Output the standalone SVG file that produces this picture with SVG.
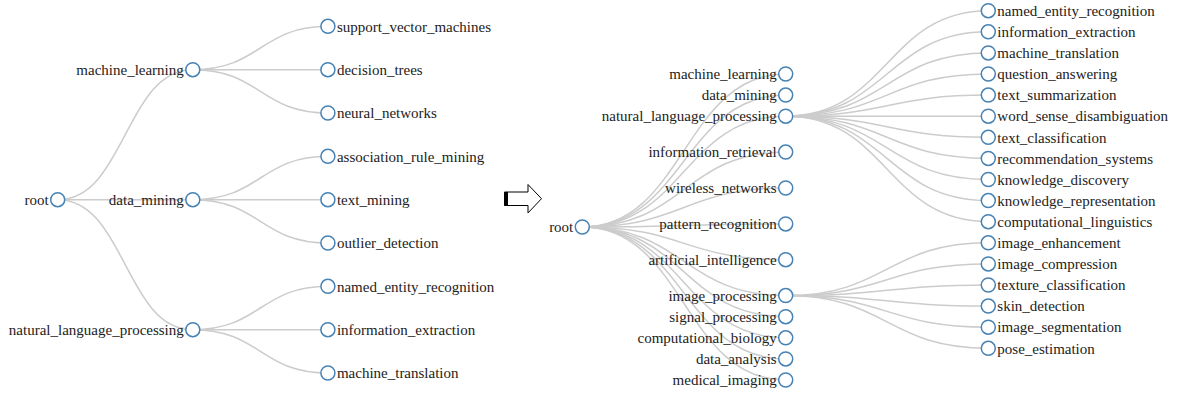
<svg xmlns="http://www.w3.org/2000/svg" width="1181" height="394" viewBox="0 0 1181 394">
<style>
.link{fill:none;stroke:#ccc;stroke-width:1.5}
.node circle{fill:#fff;stroke:#4682b4;stroke-width:1.5}
.node text{font-family:"Liberation Serif","Times New Roman",serif;font-size:15px;fill:#222}
.l text{text-anchor:end}
.arrow{fill:#fff;stroke:#000;stroke-width:1}
</style>
<rect width="1181" height="394" fill="#fff"/>
<!-- Left tree connectors -->
<g id="links-left">
<path class="link" d="M57.7,199.7C125.25,199.7 125.25,69.7 192.8,69.7"/>
<path class="link" d="M57.7,199.7C125.25,199.7 125.25,199.7 192.8,199.7"/>
<path class="link" d="M57.7,199.7C125.25,199.7 125.25,329.7 192.8,329.7"/>
<path class="link" d="M192.8,69.7C260.35,69.7 260.35,26.3 327.9,26.3"/>
<path class="link" d="M192.8,69.7C260.35,69.7 260.35,69.7 327.9,69.7"/>
<path class="link" d="M192.8,69.7C260.35,69.7 260.35,113 327.9,113"/>
<path class="link" d="M192.8,199.7C260.35,199.7 260.35,156.3 327.9,156.3"/>
<path class="link" d="M192.8,199.7C260.35,199.7 260.35,199.7 327.9,199.7"/>
<path class="link" d="M192.8,199.7C260.35,199.7 260.35,243 327.9,243"/>
<path class="link" d="M192.8,329.7C260.35,329.7 260.35,286.3 327.9,286.3"/>
<path class="link" d="M192.8,329.7C260.35,329.7 260.35,329.7 327.9,329.7"/>
<path class="link" d="M192.8,329.7C260.35,329.7 260.35,373 327.9,373"/>
</g>
<!-- Right tree connectors -->
<g id="links-right">
<path class="link" d="M582.3,227C684,227 684,74 785.7,74"/>
<path class="link" d="M582.3,227C684,227 684,95.1 785.7,95.1"/>
<path class="link" d="M582.3,227C684,227 684,116.2 785.7,116.2"/>
<path class="link" d="M582.3,227C684,227 684,152.1 785.7,152.1"/>
<path class="link" d="M582.3,227C684,227 684,188 785.7,188"/>
<path class="link" d="M582.3,227C684,227 684,223.9 785.7,223.9"/>
<path class="link" d="M582.3,227C684,227 684,259.7 785.7,259.7"/>
<path class="link" d="M582.3,227C684,227 684,295.6 785.7,295.6"/>
<path class="link" d="M582.3,227C684,227 684,316.7 785.7,316.7"/>
<path class="link" d="M582.3,227C684,227 684,337.8 785.7,337.8"/>
<path class="link" d="M582.3,227C684,227 684,358.9 785.7,358.9"/>
<path class="link" d="M582.3,227C684,227 684,380 785.7,380"/>
<path class="link" d="M785.7,116.2C887,116.2 887,10.7 988.3,10.7"/>
<path class="link" d="M785.7,116.2C887,116.2 887,31.8 988.3,31.8"/>
<path class="link" d="M785.7,116.2C887,116.2 887,52.9 988.3,52.9"/>
<path class="link" d="M785.7,116.2C887,116.2 887,74 988.3,74"/>
<path class="link" d="M785.7,116.2C887,116.2 887,95.1 988.3,95.1"/>
<path class="link" d="M785.7,116.2C887,116.2 887,116.2 988.3,116.2"/>
<path class="link" d="M785.7,116.2C887,116.2 887,137.3 988.3,137.3"/>
<path class="link" d="M785.7,116.2C887,116.2 887,158.4 988.3,158.4"/>
<path class="link" d="M785.7,116.2C887,116.2 887,179.5 988.3,179.5"/>
<path class="link" d="M785.7,116.2C887,116.2 887,200.6 988.3,200.6"/>
<path class="link" d="M785.7,116.2C887,116.2 887,221.7 988.3,221.7"/>
<path class="link" d="M785.7,295.6C887,295.6 887,242.8 988.3,242.8"/>
<path class="link" d="M785.7,295.6C887,295.6 887,263.9 988.3,263.9"/>
<path class="link" d="M785.7,295.6C887,295.6 887,285 988.3,285"/>
<path class="link" d="M785.7,295.6C887,295.6 887,306.1 988.3,306.1"/>
<path class="link" d="M785.7,295.6C887,295.6 887,327.2 988.3,327.2"/>
<path class="link" d="M785.7,295.6C887,295.6 887,348.3 988.3,348.3"/>
</g>
<!-- Arrow -->
<g id="transform-arrow">
<path class="arrow" d="M504.5,192H528V184.5L541.5,198.7L528,212.9V205.5H504.5Z"/>
<rect x="504" y="192" width="4" height="13.5" fill="#000"/>
</g>
<!-- Left tree nodes -->
<g id="L-root" class="node l" transform="translate(57.7,199.7)"><circle r="7"/><text x="-9" dy="0.35em">root</text></g>
<g id="L-machine_learning" class="node l" transform="translate(192.8,69.7)"><circle r="7"/><text x="-9" dy="0.35em">machine_learning</text></g>
<g id="L-data_mining" class="node l" transform="translate(192.8,199.7)"><circle r="7"/><text x="-9" dy="0.35em">data_mining</text></g>
<g id="L-natural_language_processing" class="node l" transform="translate(192.8,329.7)"><circle r="7"/><text x="-9" dy="0.35em">natural_language_processing</text></g>
<g id="L-support_vector_machines" class="node" transform="translate(327.9,26.3)"><circle r="7"/><text x="9" dy="0.35em">support_vector_machines</text></g>
<g id="L-decision_trees" class="node" transform="translate(327.9,69.7)"><circle r="7"/><text x="9" dy="0.35em">decision_trees</text></g>
<g id="L-neural_networks" class="node" transform="translate(327.9,113)"><circle r="7"/><text x="9" dy="0.35em">neural_networks</text></g>
<g id="L-association_rule_mining" class="node" transform="translate(327.9,156.3)"><circle r="7"/><text x="9" dy="0.35em">association_rule_mining</text></g>
<g id="L-text_mining" class="node" transform="translate(327.9,199.7)"><circle r="7"/><text x="9" dy="0.35em">text_mining</text></g>
<g id="L-outlier_detection" class="node" transform="translate(327.9,243)"><circle r="7"/><text x="9" dy="0.35em">outlier_detection</text></g>
<g id="L-named_entity_recognition" class="node" transform="translate(327.9,286.3)"><circle r="7"/><text x="9" dy="0.35em">named_entity_recognition</text></g>
<g id="L-information_extraction" class="node" transform="translate(327.9,329.7)"><circle r="7"/><text x="9" dy="0.35em">information_extraction</text></g>
<g id="L-machine_translation" class="node" transform="translate(327.9,373)"><circle r="7"/><text x="9" dy="0.35em">machine_translation</text></g>
<!-- Right tree nodes -->
<g id="R-root" class="node l" transform="translate(582.3,227)"><circle r="7"/><text x="-9" dy="0.35em">root</text></g>
<g id="R-machine_learning" class="node l" transform="translate(785.7,74)"><circle r="7"/><text x="-9" dy="0.35em">machine_learning</text></g>
<g id="R-data_mining" class="node l" transform="translate(785.7,95.1)"><circle r="7"/><text x="-9" dy="0.35em">data_mining</text></g>
<g id="R-natural_language_processing" class="node l" transform="translate(785.7,116.2)"><circle r="7"/><text x="-9" dy="0.35em">natural_language_processing</text></g>
<g id="R-information_retrieval" class="node l" transform="translate(785.7,152.1)"><circle r="7"/><text x="-9" dy="0.35em">information_retrieval</text></g>
<g id="R-wireless_networks" class="node l" transform="translate(785.7,188)"><circle r="7"/><text x="-9" dy="0.35em">wireless_networks</text></g>
<g id="R-pattern_recognition" class="node l" transform="translate(785.7,223.9)"><circle r="7"/><text x="-9" dy="0.35em">pattern_recognition</text></g>
<g id="R-artificial_intelligence" class="node l" transform="translate(785.7,259.7)"><circle r="7"/><text x="-9" dy="0.35em">artificial_intelligence</text></g>
<g id="R-image_processing" class="node l" transform="translate(785.7,295.6)"><circle r="7"/><text x="-9" dy="0.35em">image_processing</text></g>
<g id="R-signal_processing" class="node l" transform="translate(785.7,316.7)"><circle r="7"/><text x="-9" dy="0.35em">signal_processing</text></g>
<g id="R-computational_biology" class="node l" transform="translate(785.7,337.8)"><circle r="7"/><text x="-9" dy="0.35em">computational_biology</text></g>
<g id="R-data_analysis" class="node l" transform="translate(785.7,358.9)"><circle r="7"/><text x="-9" dy="0.35em">data_analysis</text></g>
<g id="R-medical_imaging" class="node l" transform="translate(785.7,380)"><circle r="7"/><text x="-9" dy="0.35em">medical_imaging</text></g>
<g id="R-named_entity_recognition" class="node" transform="translate(988.3,10.7)"><circle r="7"/><text x="9" dy="0.35em">named_entity_recognition</text></g>
<g id="R-information_extraction" class="node" transform="translate(988.3,31.8)"><circle r="7"/><text x="9" dy="0.35em">information_extraction</text></g>
<g id="R-machine_translation" class="node" transform="translate(988.3,52.9)"><circle r="7"/><text x="9" dy="0.35em">machine_translation</text></g>
<g id="R-question_answering" class="node" transform="translate(988.3,74)"><circle r="7"/><text x="9" dy="0.35em">question_answering</text></g>
<g id="R-text_summarization" class="node" transform="translate(988.3,95.1)"><circle r="7"/><text x="9" dy="0.35em">text_summarization</text></g>
<g id="R-word_sense_disambiguation" class="node" transform="translate(988.3,116.2)"><circle r="7"/><text x="9" dy="0.35em">word_sense_disambiguation</text></g>
<g id="R-text_classification" class="node" transform="translate(988.3,137.3)"><circle r="7"/><text x="9" dy="0.35em">text_classification</text></g>
<g id="R-recommendation_systems" class="node" transform="translate(988.3,158.4)"><circle r="7"/><text x="9" dy="0.35em">recommendation_systems</text></g>
<g id="R-knowledge_discovery" class="node" transform="translate(988.3,179.5)"><circle r="7"/><text x="9" dy="0.35em">knowledge_discovery</text></g>
<g id="R-knowledge_representation" class="node" transform="translate(988.3,200.6)"><circle r="7"/><text x="9" dy="0.35em">knowledge_representation</text></g>
<g id="R-computational_linguistics" class="node" transform="translate(988.3,221.7)"><circle r="7"/><text x="9" dy="0.35em">computational_linguistics</text></g>
<g id="R-image_enhancement" class="node" transform="translate(988.3,242.8)"><circle r="7"/><text x="9" dy="0.35em">image_enhancement</text></g>
<g id="R-image_compression" class="node" transform="translate(988.3,263.9)"><circle r="7"/><text x="9" dy="0.35em">image_compression</text></g>
<g id="R-texture_classification" class="node" transform="translate(988.3,285)"><circle r="7"/><text x="9" dy="0.35em">texture_classification</text></g>
<g id="R-skin_detection" class="node" transform="translate(988.3,306.1)"><circle r="7"/><text x="9" dy="0.35em">skin_detection</text></g>
<g id="R-image_segmentation" class="node" transform="translate(988.3,327.2)"><circle r="7"/><text x="9" dy="0.35em">image_segmentation</text></g>
<g id="R-pose_estimation" class="node" transform="translate(988.3,348.3)"><circle r="7"/><text x="9" dy="0.35em">pose_estimation</text></g>
</svg>
